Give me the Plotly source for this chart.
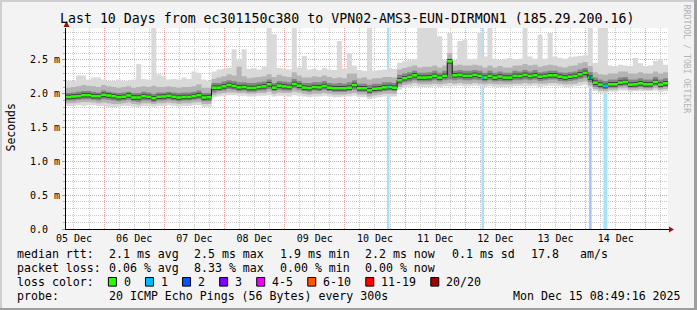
import plotly.graph_objects as go
from datetime import datetime, timedelta

# ---------------- data ----------------
START = datetime(2025, 12, 5, 8, 49, 16)
END = datetime(2025, 12, 15, 8, 49, 16)
BIN_HOURS = 2

# median rtt (ms), one value per 2-hour bin
med = [
    1.953, 1.960, 1.965, 1.980, 1.980, 1.965, 1.965, 1.985, 1.975, 1.965, 1.950, 1.955,
    1.975, 1.945, 1.945, 1.965, 1.955, 1.935, 1.957, 1.960, 1.970, 1.955, 1.945, 1.953,
    1.953, 1.965, 1.980, 1.945, 1.950, 2.090, 2.091, 2.110, 2.130, 2.115, 2.095, 2.100,
    2.086, 2.086, 2.100, 2.110, 2.140, 2.091, 2.120, 2.110, 2.100, 2.145, 2.120, 2.091,
    2.085, 2.100, 2.095, 2.115, 2.090, 2.081, 2.081, 2.081, 2.090, 2.130, 2.081, 2.081,
    2.050, 2.075, 2.080, 2.095, 2.100, 2.090, 2.200, 2.230, 2.249, 2.273, 2.240, 2.240,
    2.245, 2.265, 2.240, 2.265, 2.480, 2.273, 2.280, 2.265, 2.265, 2.280, 2.265, 2.240,
    2.265, 2.240, 2.255, 2.240, 2.240, 2.265, 2.263, 2.280, 2.263, 2.275, 2.253, 2.263,
    2.273, 2.273, 2.253, 2.240, 2.253, 2.263, 2.287, 2.310, 2.240, 2.165, 2.136, 2.116,
    2.140, 2.140, 2.165, 2.175, 2.136, 2.140, 2.155, 2.140, 2.140, 2.175, 2.136, 2.155,
]
# smoke: min / percentiles / max of the pings (ms)
lo = [
    1.82, 1.82, 1.83, 1.82, 1.83, 1.83, 1.82, 1.82, 1.80, 1.80, 1.81, 1.82,
    1.82, 1.81, 1.80, 1.82, 1.82, 1.81, 1.82, 1.82, 1.83, 1.82, 1.81, 1.82,
    1.82, 1.83, 1.83, 1.81, 1.81, 1.95, 1.96, 1.97, 1.98, 1.98, 1.97, 1.97,
    1.96, 1.96, 1.97, 1.97, 1.98, 1.96, 1.97, 1.97, 1.96, 1.98, 1.97, 1.96,
    1.95, 1.96, 1.96, 1.97, 1.96, 1.95, 1.95, 1.96, 1.96, 1.97, 1.95, 1.95,
    1.92, 1.94, 1.95, 1.96, 1.96, 1.96, 2.06, 2.09, 2.10, 2.11, 2.10, 2.10,
    2.10, 2.11, 2.10, 2.11, 2.11, 2.11, 2.12, 2.11, 2.11, 2.12, 2.11, 2.10,
    2.11, 2.10, 2.10, 2.10, 2.10, 2.11, 2.11, 2.12, 2.11, 2.12, 2.10, 2.11,
    2.12, 2.12, 2.11, 2.10, 2.10, 2.11, 2.12, 2.13, 2.08, 2.04, 2.02, 2.01,
    2.03, 2.03, 2.05, 2.05, 2.03, 2.04, 2.04, 2.04, 2.04, 2.05, 2.03, 2.04,
]
p10 = [
    1.86, 1.86, 1.87, 1.88, 1.88, 1.87, 1.86, 1.87, 1.86, 1.85, 1.85, 1.86,
    1.87, 1.85, 1.84, 1.86, 1.86, 1.85, 1.86, 1.86, 1.87, 1.86, 1.85, 1.86,
    1.86, 1.87, 1.88, 1.85, 1.85, 1.98, 2.00, 2.01, 2.02, 2.02, 2.01, 2.01,
    2.00, 2.00, 2.01, 2.01, 2.03, 2.00, 2.02, 2.01, 2.01, 2.03, 2.02, 2.00,
    1.99, 2.00, 2.00, 2.01, 2.00, 1.99, 1.99, 1.99, 2.00, 2.01, 1.99, 1.99,
    1.96, 1.98, 1.99, 2.00, 2.00, 2.00, 2.10, 2.13, 2.14, 2.16, 2.14, 2.14,
    2.14, 2.15, 2.14, 2.15, 2.16, 2.15, 2.16, 2.15, 2.15, 2.16, 2.15, 2.14,
    2.15, 2.14, 2.14, 2.14, 2.14, 2.15, 2.15, 2.16, 2.15, 2.16, 2.15, 2.15,
    2.16, 2.16, 2.15, 2.14, 2.14, 2.15, 2.17, 2.18, 2.12, 2.07, 2.05, 2.04,
    2.06, 2.06, 2.08, 2.08, 2.06, 2.06, 2.07, 2.06, 2.06, 2.08, 2.06, 2.07,
]
p25 = [
    1.90, 1.90, 1.91, 1.92, 1.92, 1.91, 1.90, 1.92, 1.91, 1.90, 1.89, 1.90,
    1.91, 1.89, 1.88, 1.90, 1.90, 1.88, 1.90, 1.90, 1.91, 1.90, 1.89, 1.90,
    1.90, 1.91, 1.92, 1.89, 1.89, 2.02, 2.04, 2.05, 2.07, 2.06, 2.04, 2.05,
    2.03, 2.03, 2.05, 2.05, 2.07, 2.04, 2.06, 2.05, 2.05, 2.08, 2.06, 2.04,
    2.03, 2.05, 2.04, 2.06, 2.04, 2.03, 2.03, 2.03, 2.04, 2.06, 2.03, 2.03,
    2.00, 2.02, 2.03, 2.04, 2.05, 2.04, 2.14, 2.17, 2.18, 2.20, 2.18, 2.18,
    2.18, 2.20, 2.18, 2.20, 2.21, 2.20, 2.21, 2.20, 2.20, 2.21, 2.20, 2.18,
    2.20, 2.18, 2.19, 2.18, 2.18, 2.20, 2.20, 2.21, 2.20, 2.21, 2.19, 2.20,
    2.21, 2.21, 2.19, 2.18, 2.19, 2.20, 2.22, 2.24, 2.17, 2.10, 2.08, 2.07,
    2.09, 2.09, 2.11, 2.12, 2.09, 2.09, 2.10, 2.09, 2.09, 2.12, 2.09, 2.10,
]
p75 = [
    2.01, 2.02, 2.03, 2.04, 2.04, 2.03, 2.02, 2.05, 2.03, 2.02, 2.01, 2.02,
    2.03, 2.01, 2.01, 2.03, 2.02, 2.00, 2.02, 2.02, 2.03, 2.02, 2.01, 2.02,
    2.02, 2.03, 2.05, 2.01, 2.01, 2.16, 2.16, 2.18, 2.20, 2.19, 2.17, 2.17,
    2.16, 2.16, 2.17, 2.18, 2.21, 2.16, 2.19, 2.18, 2.17, 2.22, 2.19, 2.16,
    2.16, 2.17, 2.17, 2.19, 2.16, 2.15, 2.16, 2.15, 2.17, 2.20, 2.15, 2.15,
    2.13, 2.15, 2.15, 2.17, 2.17, 2.16, 2.28, 2.30, 2.32, 2.34, 2.31, 2.31,
    2.32, 2.34, 2.31, 2.34, 2.52, 2.34, 2.35, 2.34, 2.34, 2.35, 2.34, 2.31,
    2.34, 2.31, 2.33, 2.31, 2.31, 2.34, 2.33, 2.35, 2.33, 2.35, 2.32, 2.33,
    2.34, 2.34, 2.32, 2.31, 2.32, 2.33, 2.36, 2.38, 2.32, 2.24, 2.21, 2.19,
    2.21, 2.21, 2.24, 2.25, 2.21, 2.21, 2.23, 2.21, 2.21, 2.25, 2.21, 2.23,
]
p90 = [
    2.09, 2.10, 2.11, 2.13, 2.12, 2.11, 2.10, 2.13, 2.11, 2.10, 2.09, 2.10,
    2.11, 2.09, 2.10, 2.11, 2.10, 2.12, 2.10, 2.10, 2.11, 2.10, 2.09, 2.10,
    2.10, 2.11, 2.14, 2.09, 2.09, 2.22, 2.24, 2.26, 2.29, 2.27, 2.40, 2.26,
    2.23, 2.24, 2.25, 2.26, 2.29, 2.25, 2.28, 2.26, 2.25, 2.32, 2.27, 2.24,
    2.24, 2.26, 2.25, 2.27, 2.25, 2.23, 2.24, 2.23, 2.30, 2.30, 2.23, 2.24,
    2.21, 2.23, 2.23, 2.25, 2.25, 2.24, 2.36, 2.38, 2.40, 2.42, 2.39, 2.40,
    2.40, 2.42, 2.39, 2.42, 2.60, 2.42, 2.43, 2.42, 2.42, 2.43, 2.42, 2.39,
    2.42, 2.39, 2.41, 2.39, 2.39, 2.42, 2.42, 2.44, 2.42, 2.43, 2.40, 2.42,
    2.43, 2.42, 2.40, 2.39, 2.41, 2.42, 2.45, 2.47, 2.41, 2.32, 2.29, 2.28,
    2.30, 2.30, 2.33, 2.33, 2.30, 2.30, 2.32, 2.30, 2.30, 2.33, 2.30, 2.32,
]
hi = [
    2.19, 2.19, 2.27, 2.27, 2.21, 2.24, 2.24, 2.21, 2.19, 2.19, 2.21, 2.19,
    2.19, 2.21, 2.44, 2.22, 2.21, 3.20, 2.29, 2.26, 2.21, 2.22, 2.21, 2.24,
    2.22, 2.33, 2.31, 2.21, 2.19, 2.33, 2.36, 2.37, 2.38, 2.66, 2.50, 2.66,
    2.37, 2.38, 2.36, 2.40, 3.20, 2.88, 2.38, 2.37, 2.36, 3.20, 2.39, 2.56,
    2.36, 2.37, 2.35, 2.38, 2.36, 2.35, 2.78, 2.37, 2.60, 2.42, 2.35, 2.34,
    3.00, 2.34, 2.35, 2.36, 2.38, 2.37, 2.46, 2.48, 2.50, 2.52, 3.20, 3.20,
    3.20, 3.20, 2.85, 2.50, 2.90, 2.50, 2.78, 2.80, 2.51, 2.52, 2.90, 2.55,
    3.20, 2.52, 2.50, 2.52, 2.53, 2.51, 2.52, 3.20, 2.55, 2.52, 2.87, 2.52,
    2.90, 2.55, 2.53, 2.52, 2.54, 2.55, 2.56, 2.57, 3.20, 2.46, 3.20, 3.20,
    2.42, 2.40, 2.43, 2.42, 2.41, 2.53, 2.45, 2.41, 2.42, 2.49, 2.51, 2.43,
]

# packet-loss events (hour centres) and lost pings
loss_times = ["2025-12-10 17:17", "2025-12-12 06:58", "2025-12-14 01:52",
              "2025-12-14 07:35", "2025-12-14 08:10"]
loss_counts = [1, 1, 2, 1, 1]

day_ticks = ["2025-12-%02d 12:00" % d for d in range(5, 15)]
day_labels = ["05 Dec", "06 Dec", "07 Dec", "08 Dec", "09 Dec",
              "10 Dec", "11 Dec", "12 Dec", "13 Dec", "14 Dec"]
midnights = ["2025-12-%02d 00:00" % d for d in range(6, 16)]
y_ticks = [0, 0.5, 1.0, 1.5, 2.0, 2.5]
y_labels = ["0.0", "0.5 m", "1.0 m", "1.5 m", "2.0 m", "2.5 m"]

title_text = "Last 10 Days from ec301150c380 to VPN02-AMS3-EUN-DIRMON1 (185.29.200.16)"
rtt_label = "median rtt:"
rtt_stats = ["2.1 ms avg", "2.5 ms max", "1.9 ms min", "2.2 ms now", "0.1 ms sd", "17.8", "am/s"]
loss_label = "packet loss:"
loss_stats = ["0.06 % avg", "8.33 % max", "0.00 % min", "0.00 % now"]
color_label = "loss color:"
loss_labels = ["0", "1", "2", "3", "4-5", "6-10", "11-19", "20/20"]
loss_colors = ["#26ff00", "#00b8ff", "#0059ff", "#7e00ff", "#ee00ff", "#ff5500", "#ff0000", "#a10000"]
loss_bg = {1: "#a6e2fa", 2: "#a6c2fa"}
probe_label = "probe:"
probe_text = "20 ICMP Echo Pings (56 Bytes) every 300s"
stamp = "Mon Dec 15 08:49:16 2025"

# ---------------- layout geometry ----------------
W, H = 697, 310
L, R, T, B = 66, 668, 28, 229
Y_TOP = 2.973
MONO = "DejaVu Sans Mono"


def fx(x):
    return (x - L) / (R - L)


def fy(y):
    return (B - y) / (B - T)


def ext(a):
    return list(a) + [a[-1]]


t = [START + timedelta(hours=BIN_HOURS * k) for k in range(len(med) + 1)]

fig = go.Figure()

# loss background bars
ltimes = [datetime.strptime(s, "%Y-%m-%d %H:%M") for s in loss_times]
fig.add_trace(go.Bar(
    x=ltimes, y=[Y_TOP] * len(ltimes), base=0, width=3600 * 1000,
    marker=dict(color=[loss_bg[c] for c in loss_counts], line=dict(width=0)),
    hoverinfo="skip", showlegend=False))

# smoke bands
for lower, upper, col in [(lo, hi, "#d9d9d9"), (p10, p90, "#b4b4b4"), (p25, p75, "#858585")]:
    fig.add_trace(go.Scatter(x=t, y=ext(lower), mode="lines",
                             line=dict(width=0, shape="hv"), hoverinfo="skip", showlegend=False))
    fig.add_trace(go.Scatter(x=t, y=ext(upper), mode="lines", fill="tonexty", fillcolor=col,
                             line=dict(width=0, shape="hv"), hoverinfo="skip", showlegend=False))

# median connector line
fig.add_trace(go.Scatter(x=t, y=ext(med), mode="lines",
                         line=dict(width=1, color="#111111", shape="hv"),
                         hoverinfo="skip", showlegend=False))

seg_x, seg_y = [], []
for k, m in enumerate(med):
    seg_x += [t[k], t[k + 1], None]
    seg_y += [m, m, None]
fig.add_trace(go.Scatter(x=seg_x, y=seg_y, mode="lines", line=dict(width=4.5, color="#3c3c3c"),
                         hoverinfo="skip", showlegend=False))
fig.add_trace(go.Scatter(x=seg_x, y=seg_y, mode="lines", line=dict(width=2.6, color=loss_colors[0]),
                         hoverinfo="skip", showlegend=False))

# loss-coloured median marks
for tt, c in zip(ltimes, loss_counts):
    k = int((tt - START) / timedelta(hours=BIN_HOURS))
    fig.add_trace(go.Scatter(x=[tt - timedelta(minutes=30), tt + timedelta(minutes=30)],
                             y=[med[k], med[k]], mode="lines",
                             line=dict(width=2.6, color=loss_colors[min(c, 3)]),
                             hoverinfo="skip", showlegend=False))

# dummy trace for the midnight grid axis
fig.add_trace(go.Scatter(x=t, y=[None] * len(t), xaxis="x2", yaxis="y",
                         mode="lines", hoverinfo="skip", showlegend=False))

RED = "#f0a0a0"
GRAY = "#c8c8c8"
DASH = "1px,1px"

fig.update_layout(
    width=W, height=H,
    margin=dict(l=L, r=W - R, t=T, b=H - B, pad=0),
    paper_bgcolor="#f3f3f3", plot_bgcolor="#ffffff",
    showlegend=False, barmode="overlay",
    xaxis=dict(type="date", range=[START, END], tickmode="array",
               tickvals=day_ticks, ticktext=day_labels,
               showgrid=True, gridcolor=GRAY, griddash=DASH, gridwidth=1,
               minor=dict(tick0="2025-12-05 00:00", dtick=6 * 3600 * 1000, showgrid=True,
                          gridcolor=GRAY, griddash=DASH, ticks=""),
               ticks="", showline=True, linecolor="#000000", linewidth=1, zeroline=False,
               tickfont=dict(family=MONO, size=10, color="#000000")),
    xaxis2=dict(type="date", range=[START, END], overlaying="x", anchor="y",
                tickmode="array", tickvals=midnights, showticklabels=False,
                showgrid=True, gridcolor=RED, griddash=DASH, ticks="",
                showline=False, zeroline=False),
    yaxis=dict(range=[0, Y_TOP], tickmode="array", tickvals=y_ticks,
               ticktext=[s + "\u00a0" * (5 - len(s)) for s in y_labels],
               showgrid=True, gridcolor=RED, griddash=DASH,
               minor=dict(tick0=0, dtick=0.1, showgrid=True, gridcolor=GRAY, griddash=DASH,
                          ticks="outside", ticklen=2, tickcolor="#b0b0b0"),
               ticks="outside", ticklen=3, tickcolor="#e08080",
               showline=True, linecolor="#000000", linewidth=1, zeroline=False,
               tickfont=dict(family=MONO, size=10, color="#000000")),
)

ann = []


def text(x, y, s, size=11.6, color="#000000", anchor="left", angle=0):
    ann.append(dict(xref="paper", yref="paper", x=fx(x), y=fy(y), text=s, showarrow=False,
                    xanchor=anchor, yanchor="middle", textangle=angle,
                    font=dict(family=MONO, size=size, color=color), borderpad=0))


text(346.5, 18.5, title_text, size=13.25, anchor="center")
text(10.5, 128, "Seconds", size=11.5, anchor="center", angle=-90)
text(687.3, 59, "RRDTOOL / TOBI OETIKER", size=8.2, color="#b4b4b4", anchor="center", angle=90)

CW = 6.98
COLS = [107.6, 193.0, 279.0, 364.4, 451.0, 530.2, 579.1]
ROWS = [254.3, 268.3, 281.8, 296.3]
text(16, ROWS[0], rtt_label)
for s, x in zip(rtt_stats, COLS):
    text(x, ROWS[0], s)
text(16, ROWS[1], loss_label)
for s, x in zip(loss_stats, COLS):
    text(x, ROWS[1], s)
text(16, ROWS[2], color_label)
text(16, ROWS[3], probe_label)
text(COLS[0], ROWS[3], probe_text)
text(512.4, ROWS[3], stamp)

shapes = []
bx = 108.4
for lab, col in zip(loss_labels, loss_colors):
    shapes.append(dict(type="rect", xref="paper", yref="paper",
                       x0=fx(bx), x1=fx(bx + 8), y0=fy(ROWS[2] + 4.3), y1=fy(ROWS[2] - 4.3),
                       fillcolor=col, line=dict(color="#000000", width=1)))
    lx = bx + 14.6
    text(lx, ROWS[2], lab)
    bx = lx + len(lab) * CW + 15.5

# frame (3D border)
for x0, x1, y0, y1, c in [(0, W, 0, 2, "#cfcfcf"), (0, 2, 0, H, "#cfcfcf"),
                          (0, W, H - 2, H, "#9e9e9e"), (W - 3, W, 0, H, "#9e9e9e")]:
    shapes.append(dict(type="rect", xref="paper", yref="paper", x0=fx(x0), x1=fx(x1),
                       y0=fy(y1), y1=fy(y0), fillcolor=c, line=dict(width=0), layer="below"))

# axis arrows
shapes.append(dict(type="path", xref="paper", yref="paper",
                   path="M %f,%f L %f,%f L %f,%f Z" % (fx(63.5), fy(27), fx(69.5), fy(27), fx(66.5), fy(21)),
                   fillcolor="#a01010", line=dict(width=0)))
shapes.append(dict(type="line", xref="paper", yref="paper",
                   x0=fx(668), x1=fx(670), y0=fy(229.5), y1=fy(229.5), line=dict(color="#000000", width=1)))
shapes.append(dict(type="path", xref="paper", yref="paper",
                   path="M %f,%f L %f,%f L %f,%f Z" % (fx(669), fy(226.5), fx(669), fy(232.5), fx(674), fy(229.5)),
                   fillcolor="#a01010", line=dict(width=0)))

fig.update_layout(annotations=ann, shapes=shapes)
fig.write_html("out.html")
